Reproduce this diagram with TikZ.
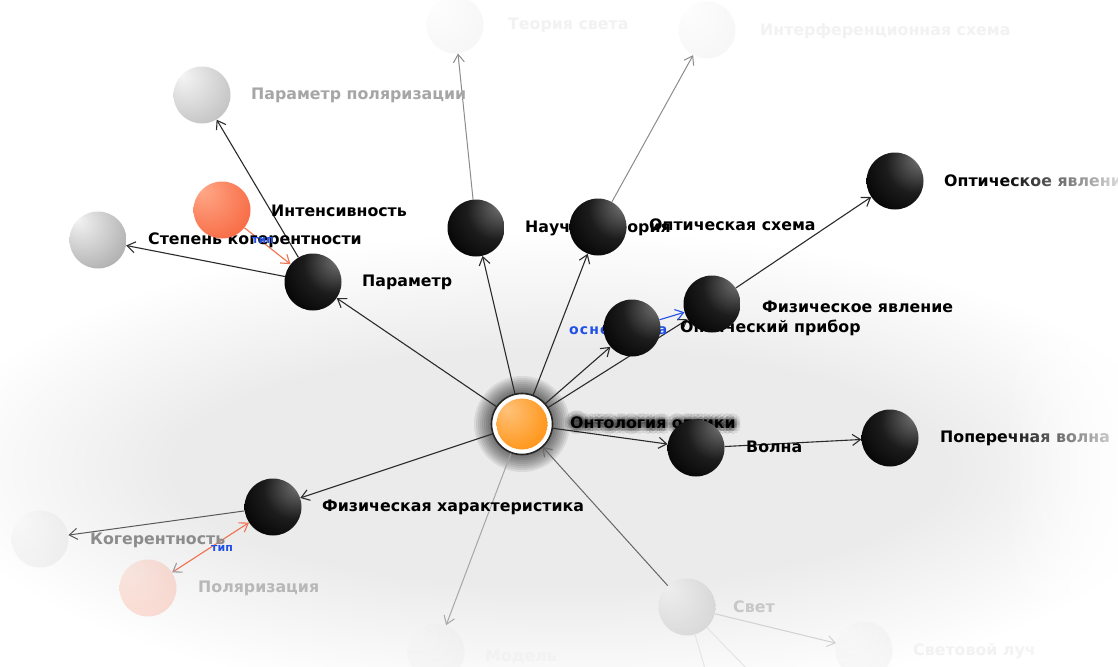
\documentclass[tikz,border=0pt]{standalone}
\usepackage{fontspec}
\setmainfont{DejaVu Sans}
\newfontfamily\osnfont{DejaVu Sans}[LetterSpace=8]
\usetikzlibrary{arrows.meta,fadings}

% colours
\definecolor{edgec}{HTML}{2B2B2B}
\definecolor{bluel}{HTML}{2050E8}
\definecolor{redl}{HTML}{F07050}
% sphere shadings
\definecolor{sB0}{HTML}{8A8A8A}
\definecolor{sB1}{HTML}{5E5E5E}
\definecolor{sB2}{HTML}{1C1C1C}
\definecolor{sB3}{HTML}{000000}
\definecolor{sG0}{HTML}{F2F2F2}
\definecolor{sG1}{HTML}{C8C8C8}
\definecolor{sG2}{HTML}{8A8A8A}
\definecolor{sG3}{HTML}{6E6E6E}
\definecolor{sR0}{HTML}{FFA888}
\definecolor{sR1}{HTML}{F8704A}
\definecolor{sR2}{HTML}{E84A22}
\definecolor{sO0}{HTML}{FFC27A}
\definecolor{sO1}{HTML}{FF9A22}
\definecolor{sO2}{HTML}{EE7400}

\pgfdeclareradialshading{sphB}{\pgfpoint{25bp}{22bp}}{color(0bp)=(sB0); color(8bp)=(sB1); color(26bp)=(sB2); color(48bp)=(sB3); color(90bp)=(sB3)}
\pgfdeclareradialshading{sphG}{\pgfpoint{-18bp}{18bp}}{color(0bp)=(sG0); color(25bp)=(sG1); color(60bp)=(sG2); color(80bp)=(sG3)}
\pgfdeclareradialshading{sphR}{\pgfpoint{-18bp}{18bp}}{color(0bp)=(sR0); color(35bp)=(sR1); color(75bp)=(sR2)}
\pgfdeclareradialshading{sphO}{\pgfpoint{-15bp}{15bp}}{color(0bp)=(sO0); color(32bp)=(sO1); color(70bp)=(sO2)}

\tikzfading[name=fadeToRight, left color=transparent!100, right color=transparent!0]

\tikzset{
  ball/.style={circle, minimum size=57pt, inner sep=0pt, shade},
  blackball/.style={ball, shading=sphB},
  grayball/.style={ball, shading=sphG},
  redball/.style={ball, shading=sphR},
  lbl/.style={anchor=west, inner sep=0pt, text=black,
              font=\bfseries\fontsize{15.8}{18}\selectfont},
  elbl/.style={inner sep=0pt, text=bluel, font=\bfseries\fontsize{11}{13}\selectfont},
  tip/.style={-{Straight Barb[length=8pt,width=11pt]}},
  edge/.style={draw=edgec, line width=1.1pt, tip},
  paleedge/.style={draw=#1, line width=1pt, tip},
  rededge/.style={draw=redl, line width=1.1pt, tip},
  blueedge/.style={draw=bluel, line width=1.1pt, tip},
  place/.style={circle, minimum size=57pt, inner sep=0pt},
}

\begin{document}
\begin{tikzpicture}[x=1pt,y=-1pt]
\useasboundingbox (0,0) rectangle (1118,666);
\fill[white] (0,0) rectangle (1118,666);

% soft grey fog behind the lower half, built from stacked ellipses
\foreach \k in {0,...,19}
  \fill[black, opacity=0.0045] (560,468) ellipse [x radius={(620-12*\k)*1pt}, y radius={(235-6*\k)*1pt}];

% dark halo round the central concept
\foreach \r in {30,32,...,48} \fill[black, opacity=0.075] (522,424) circle (\r pt);

% ---------- node places ----------
\node[circle, minimum size=61pt, inner sep=0pt] (onto) at (522,424) {};
\node[place] (param)  at (313,282) {};
\node[place] (intens) at (222,210) {};
\node[place] (stepkog) at (98,240) {};
\node[place] (parpol) at (202,95) {};
\node[place] (nauch) at (476,228) {};
\node[place] (optsch) at (598,227) {};
\node[place] (teor) at (455,25) {};
\node[place] (interf) at (707,30) {};
\node[place] (optyav) at (895,181) {};
\node[place] (fizyav) at (712,304) {};
\node[place] (optpr) at (632,328) {};
\node[place] (volna) at (696,448) {};
\node[place] (poper) at (890,438) {};
\node[place] (fizhar) at (273,507) {};
\node[place] (kog) at (40,539) {};
\node[place] (polar) at (148,588) {};
\node[place] (svet) at (687,607) {};
\node[place] (model) at (436,652) {};
\node[place] (luch) at (864,650) {};
\coordinate (down1) at (706,672);
\coordinate (down2) at (750,672);

% ---------- connectors ----------
\draw[edge] (onto) -- (param);
\draw[edge] (param) -- (stepkog);
\draw[edge] (param) -- (parpol);
\draw[rededge] (intens) -- (param);
\draw[edge] (onto) -- (nauch);
\draw[edge] (onto) -- (optsch);
\draw[paleedge=black!45] (nauch) -- (teor);
\draw[paleedge=black!45] (optsch) -- (interf);
\draw[edge] (onto) -- (optpr);
\draw[edge] (onto) -- (fizyav);
\draw[blueedge] (optpr) -- (fizyav);
\draw[edge] (fizyav) -- (optyav);
\draw[edge] (onto) -- (volna);
\draw[edge] (volna) -- (poper);
\draw[edge] (onto) -- (fizhar);
\draw[paleedge=black!65] (fizhar) -- (kog);
\draw[draw=redl, line width=1.1pt, {Straight Barb[length=8pt,width=11pt,color=black!40]}-{Straight Barb[length=8pt,width=11pt]}] (polar) -- (fizhar);
\draw[paleedge=black!60] (svet) -- (onto);
\draw[paleedge=black!35] (onto) -- (model);
\draw[paleedge=black!18] (svet) -- (luch);
\draw[draw=black!10, line width=1pt] (svet) -- (down1);
\draw[draw=black!10, line width=1pt] (svet) -- (down2);

% ---------- labels ----------
\foreach \a in {0,30,...,330}{
  \node[lbl, text=black, opacity=0.10, xshift={3*cos(\a)}, yshift={3*sin(\a)}] at (570,423) {Онтология оптики};
  \node[lbl, text=black, opacity=0.08, xshift={6*cos(\a)}, yshift={6*sin(\a)}] at (570,423) {Онтология оптики};
}
\node[lbl] (ontoL) at (570,423) {Онтология оптики};
\node[lbl] (paramL) at (362,282) {Параметр};
\node[lbl] (intensL) at (271,211) {Интенсивность};
\node[lbl] (stepkogL) at (148,240) {Степень когерентности};
\node[lbl, text=black!35] (parpolL) at (251,95) {Параметр поляризации};
\node[lbl] (nauchL) at (525,228) {Научная теория};
\node[lbl] (optschL) at (649,225) {Оптическая схема};
\node[lbl, text=black!5] (teorL) at (508,25) {Теория света};
\node[lbl, text=black!5] (interfL) at (760,31) {Интерференционная схема};
\node[lbl] (optyavL) at (944,181) {Оптическое явление};
\node[lbl] (fizyavL) at (762,307) {Физическое явление};
\node[lbl] (optprL) at (680,328) {Оптический прибор};
\node[lbl] (volnaL) at (746,447) {Волна};
\node[lbl] (poperL) at (940,438) {Поперечная волна};
\node[lbl] (fizharL) at (322,507) {Физическая характеристика};
\node[lbl, text=black!45] (kogL) at (90,540) {Когерентность};
\node[lbl, text=black!28] (polarL) at (198,588) {Поляризация};
\node[lbl, text=black!22] (svetL) at (733,607) {Свет};
\node[lbl, text=black!5] (modelL) at (485,657) {Модель};
\node[lbl, text=black!5] (luchL) at (913,651) {Световой луч};

% relation labels
\node[elbl] (tip1) at (263,240) {тип};
\node[elbl] (tip2) at (222,548) {тип};
\node[anchor=west, inner sep=0pt, text=bluel, font=\osnfont\bfseries\fontsize{14}{16}\selectfont] (osn) at (569,331) {основан на};

% ---------- sphere bodies ----------
\node[grayball, opacity=0.10] at (teor) {};
\node[grayball, opacity=0.10] at (interf) {};
\node[grayball, opacity=0.07] at (model) {};
\node[grayball, opacity=0.10] at (luch) {};
\node[grayball, opacity=0.40] at (svet) {};
\node[grayball, opacity=0.15] at (kog) {};
\node[redball, opacity=0.22] at (polar) {};
\node[grayball, opacity=0.75] at (parpol) {};
\node[grayball] at (stepkog) {};
\node[redball] at (intens) {};
\node[blackball] at (param) {};
\node[blackball] at (nauch) {};
\node[blackball] at (optsch) {};
\node[blackball] at (optpr) {};
\node[blackball] at (fizyav) {};
\node[blackball] at (optyav) {};
\node[blackball] at (volna) {};
\node[blackball] at (poper) {};
\node[blackball] at (fizhar) {};

% central concept: white ring round an orange core
\node[circle, minimum size=61pt, inner sep=0pt, fill=white, draw=black!85, line width=1.6pt] at (onto) {};
\node[circle, minimum size=51pt, inner sep=0pt, shade, shading=sphO] at (onto) {};

% fade towards the right border
\fill[white, path fading=fadeToRight, opacity=0.85] (1000,0) rectangle (1118,666);
\end{tikzpicture}
\end{document}
